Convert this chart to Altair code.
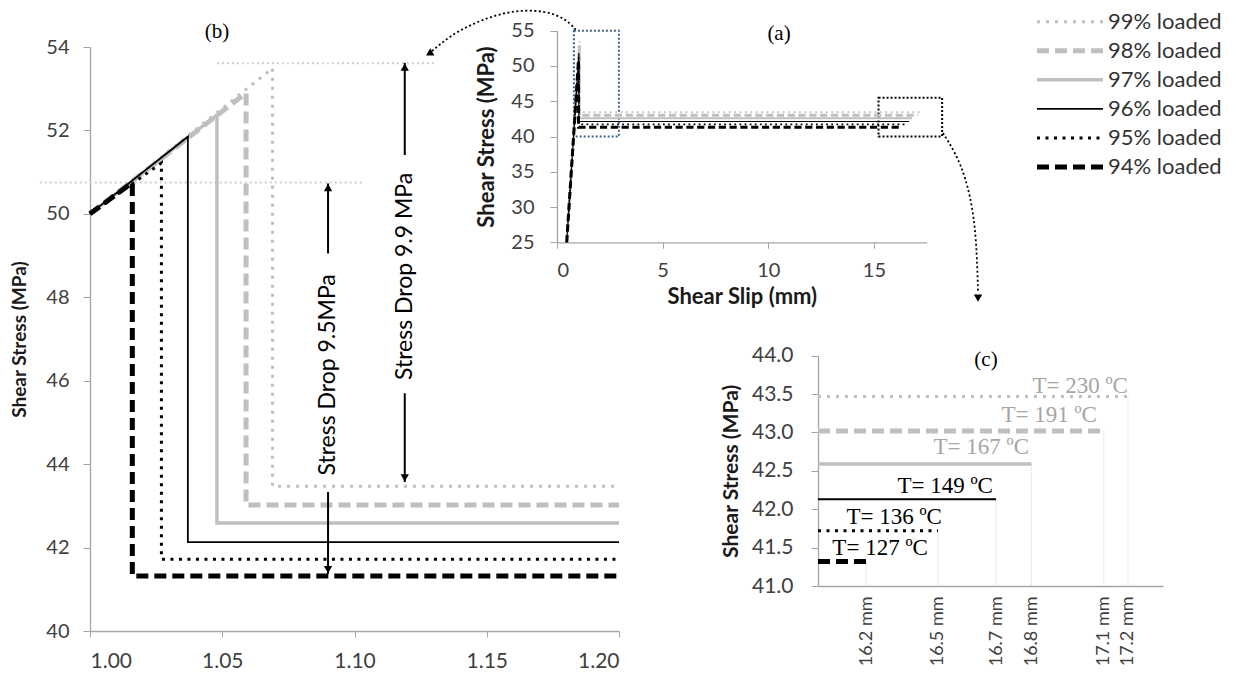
import altair as alt
import pandas as pd

# ---------------- data ----------------
series = ["99% loaded", "98% loaded", "97% loaded", "96% loaded", "95% loaded", "94% loaded"]
onset_slip = [0.46, 1.00]
onset_stress = [25.0, 50.0]
peak_slip = [1.069, 1.059, 1.048, 1.037, 1.027, 1.016]
peak_stress = [53.49, 52.90, 52.37, 51.85, 51.22, 50.75]
residual_stress = [43.47, 43.02, 42.59, 42.13, 41.72, 41.32]
end_slip = [17.168, 17.077, 16.804, 16.671, 16.452, 16.181]
temperature = ["T= 230 ºC", "T= 191 ºC", "T= 167 ºC", "T= 149 ºC", "T= 136 ºC", "T= 127 ºC"]
temp_label_slip = [17.168, 17.051, 16.795, 16.659, 16.467, 16.414]
temp_label_stress = [43.51, 43.14, 42.72, 42.21, 41.81, 41.40]

# (b) annotations
drop_labels = ["Stress Drop 9.9 MPa", "Stress Drop 9.5MPa"]
drop_slip = [1.119, 1.090]
drop_text_stress = [48.50, 46.14]
drop_top_tip = [53.62, 50.73]
drop_top_end = [51.41, 49.05]
drop_bot_start = [45.70, 43.33]
drop_bot_tip = [43.57, 41.37]
drop_top_head = [53.52, 50.63]
drop_bot_head = [43.67, 41.47]
guide_slip_start = [1.048, 0.981]
guide_slip_end = [1.130, 1.103]
guide_stress = [53.61, 50.75]

# (a) annotations
box_names = ["peak", "end"]
box_slip_lo = [0.80, 15.22]
box_slip_hi = [2.93, 18.23]
box_stress_lo = [40.0, 40.0]
box_stress_hi = [55.0, 45.5]
arc1_slip = [-5.917, -5.065, -4.118, -2.935, -1.751, -0.568, 0.379, 0.899]
arc1_stress = [52.12, 54.25, 55.81, 57.23, 57.93, 57.79, 56.80, 55.10]
arc1_head = (-6.05, 51.75)
arc2_slip = [18.27, 18.84, 19.36, 19.74, 19.88, 19.93]
arc2_stress = [40.50, 37.80, 34.12, 28.87, 23.20, 17.95]
arc2_head = (19.93, 17.10)

panel_tags = ["(a)", "(b)", "(c)"]
tag_slip = [10.51, 1.048, 16.633]
tag_stress = [54.53, 54.36, 43.944]

# axes
b_x_domain = [1.00, 1.20]
b_y_domain = [40, 54]
b_x_ticks = [1.00, 1.05, 1.10, 1.15, 1.20]
b_y_ticks = [40, 42, 44, 46, 48, 50, 52, 54]
a_x_domain = [0, 17.5]
a_y_domain = [25, 55]
a_x_ticks = [0, 5, 10, 15]
a_y_ticks = [25, 30, 35, 40, 45, 50, 55]
c_x_domain = [16.0, 17.3]
c_y_domain = [41.0, 44.0]
c_y_ticks = [41.0, 41.5, 42.0, 42.5, 43.0, 43.5, 44.0]

# ---------------- layout & style ----------------
W, H = 1220, 662
B_X_RANGE, B_Y_RANGE = [82, 611], [623, 39]
A_X_RANGE, A_Y_RANGE = [549, 918.7], [234.3, 22.7]
C_X_RANGE, C_Y_RANGE = [810, 1155], [578, 347.7]
L_X_RANGE, L_Y_RANGE = [1029, 1095], [13.7, 159]

FONT = "Lato"
SERIF = "Liberation Serif"
AXIS_GRAY = "#a6a6a6"
LABEL = "#404040"
TITLE = "#1a1a1a"
GRAY = "#bfbfbf"

STYLE = {
    "99% loaded": dict(color=GRAY, dash=[3, 6], width=3),
    "98% loaded": dict(color=GRAY, dash=[12, 6], width=5),
    "97% loaded": dict(color=GRAY, dash=None, width=3.5),
    "96% loaded": dict(color="#000000", dash=None, width=1.8),
    "95% loaded": dict(color="#000000", dash=[3, 5.5], width=3),
    "94% loaded": dict(color="#000000", dash=[12, 6], width=5),
}
label_colors = ["#a6a6a6", "#a6a6a6", "#a6a6a6", "#000000", "#000000", "#000000"]


def lin(domain, rng):
    return alt.Scale(domain=domain, range=rng, nice=False, zero=False)


def x_axis(values, y_px, lsize, lpad, fmt=None, title="", tsize=20, tpad=6, ticks=True, **kw):
    args = dict(orient="bottom", offset=y_px - H, values=values, grid=False, ticks=ticks,
                tickSize=6, tickColor=AXIS_GRAY, domainColor=AXIS_GRAY, domainWidth=1.3,
                labelFont=FONT, labelFontSize=lsize, labelColor=LABEL, labelPadding=lpad,
                title=title, titleFont=FONT, titleFontSize=tsize, titleFontWeight="bold",
                titleColor=TITLE, titlePadding=tpad)
    if fmt:
        args["format"] = fmt
    args.update(kw)
    return alt.Axis(**args)


def y_axis(values, x_px, lsize, lpad, fmt, title, tsize, tpad):
    return alt.Axis(orient="left", offset=-x_px, values=values, format=fmt, grid=False,
                    tickSize=7, tickColor=AXIS_GRAY, domainColor=AXIS_GRAY, domainWidth=1.3,
                    labelFont=FONT, labelFontSize=lsize, labelColor=LABEL, labelPadding=lpad,
                    title=title, titleFont=FONT, titleFontSize=tsize, titleFontWeight="bold",
                    titleColor=TITLE, titlePadding=tpad)


def make_xy(xs, ys, xa, ya):
    def X(f):
        return alt.X(f, type="quantitative", scale=xs, axis=xa)

    def Y(f):
        return alt.Y(f, type="quantitative", scale=ys, axis=ya)
    return X, Y


def series_lines(df, X, Y, k=1.0):
    out = []
    for s in series:
        st = STYLE[s]
        kw = dict(color=st["color"], strokeWidth=st["width"] * k, strokeCap="butt", strokeJoin="miter")
        if st["dash"]:
            kw["strokeDash"] = [d * k for d in st["dash"]]
        out.append(alt.Chart(df[df.series == s]).mark_line(**kw).encode(
            x=X("x"), y=Y("y"), order=alt.Order("order:Q")))
    return out


# ---------------- panel (b) ----------------
bX, bY = make_xy(
    lin(b_x_domain, B_X_RANGE), lin(b_y_domain, B_Y_RANGE),
    x_axis(b_x_ticks, B_Y_RANGE[0], 21, 13, fmt=".2f"),
    y_axis(b_y_ticks, B_X_RANGE[0], 20, 14, "d", "Shear Stress (MPa)", 19, 16))

rows = []
for i, s in enumerate(series):
    pts = [(onset_slip[1], onset_stress[1]), (peak_slip[i], peak_stress[i]),
           (peak_slip[i], residual_stress[i]), (b_x_domain[1], residual_stress[i])]
    for k, (x, y) in enumerate(pts):
        rows.append(dict(series=s, order=k, x=x, y=y))
b_df = pd.DataFrame(rows)

guide_df = pd.DataFrame(dict(x=guide_slip_start, x1=guide_slip_end, y=guide_stress))
b_guides = alt.Chart(guide_df).mark_rule(color="#cfcfcf", strokeWidth=2, strokeDash=[2, 3]).encode(
    x=bX("x"), x2=alt.X2("x1"), y=bY("y"))

shaft_df = pd.DataFrame(dict(
    x=drop_slip + drop_slip,
    y=drop_top_tip + drop_bot_start,
    y1=drop_top_end + drop_bot_tip))
b_shafts = alt.Chart(shaft_df).mark_rule(color="black", strokeWidth=2).encode(
    x=bX("x"), y=bY("y"), y2=alt.Y2("y1"))
b_heads_up = alt.Chart(pd.DataFrame(dict(x=drop_slip, y=drop_top_head))).mark_point(
    shape="triangle-up", filled=True, size=70, color="black", opacity=1).encode(x=bX("x"), y=bY("y"))
b_heads_dn = alt.Chart(pd.DataFrame(dict(x=drop_slip, y=drop_bot_head))).mark_point(
    shape="triangle-down", filled=True, size=70, color="black", opacity=1).encode(x=bX("x"), y=bY("y"))
b_text = alt.Chart(pd.DataFrame(dict(x=drop_slip, y=drop_text_stress, t=drop_labels))).mark_text(
    angle=270, align="center", baseline="middle", font=FONT, fontSize=23, color="black").encode(
    x=bX("x"), y=bY("y"), text="t:N")
b_tag = alt.Chart(pd.DataFrame(dict(x=[tag_slip[1]], y=[tag_stress[1]], t=[panel_tags[1]]))).mark_text(
    font=SERIF, fontSize=21, baseline="middle", align="center", color="black").encode(
    x=bX("x"), y=bY("y"), text="t:N")

panel_b = alt.layer(b_guides, *series_lines(b_df, bX, bY), b_shafts, b_heads_up, b_heads_dn, b_text, b_tag)

# ---------------- panel (a) ----------------
aX, aY = make_xy(
    lin(a_x_domain, A_X_RANGE), lin(a_y_domain, A_Y_RANGE),
    x_axis(a_x_ticks, A_Y_RANGE[0], 20, 12, fmt="d", title="Shear Slip (mm)", tsize=22, tpad=6),
    y_axis(a_y_ticks, A_X_RANGE[0], 20, 16, "d", "Shear Stress (MPa)", 22, 12))

rows = []
for i, s in enumerate(series):
    pts = [(onset_slip[0], onset_stress[0]), (onset_slip[1], onset_stress[1]),
           (peak_slip[i], peak_stress[i]), (peak_slip[i], residual_stress[i]),
           (end_slip[i], residual_stress[i])]
    for k, (x, y) in enumerate(pts):
        rows.append(dict(series=s, order=k, x=x, y=y))
a_df = pd.DataFrame(rows)

box_df = pd.DataFrame(dict(name=box_names, x=box_slip_lo, x1=box_slip_hi, y=box_stress_lo, y1=box_stress_hi))
a_box1 = alt.Chart(box_df[box_df.name == "peak"]).mark_rect(
    fillOpacity=0, stroke="#3d6494", strokeWidth=2, strokeDash=[2, 2]).encode(
    x=aX("x"), x2=alt.X2("x1"), y=aY("y"), y2=alt.Y2("y1"))
a_box2 = alt.Chart(box_df[box_df.name == "end"]).mark_rect(
    fillOpacity=0, stroke="black", strokeWidth=2, strokeDash=[2, 2]).encode(
    x=aX("x"), x2=alt.X2("x1"), y=aY("y"), y2=alt.Y2("y1"))

arc1_df = pd.DataFrame(dict(x=arc1_slip, y=arc1_stress, order=list(range(len(arc1_slip)))))
arc2_df = pd.DataFrame(dict(x=arc2_slip, y=arc2_stress, order=list(range(len(arc2_slip)))))
a_arc1 = alt.Chart(arc1_df).mark_line(interpolate="basis", color="black", strokeWidth=1.8,
                                      strokeDash=[2, 2.5]).encode(x=aX("x"), y=aY("y"), order="order:Q")
a_arc2 = alt.Chart(arc2_df).mark_line(interpolate="basis", color="black", strokeWidth=1.8,
                                      strokeDash=[2, 2.5]).encode(x=aX("x"), y=aY("y"), order="order:Q")
a_head1 = alt.Chart(pd.DataFrame(dict(x=[arc1_head[0]], y=[arc1_head[1]]))).mark_point(
    shape="triangle-up", angle=240, filled=True, size=70, color="black", opacity=1).encode(x=aX("x"), y=aY("y"))
a_head2 = alt.Chart(pd.DataFrame(dict(x=[arc2_head[0]], y=[arc2_head[1]]))).mark_point(
    shape="triangle-down", filled=True, size=70, color="black", opacity=1).encode(x=aX("x"), y=aY("y"))
a_tag = alt.Chart(pd.DataFrame(dict(x=[tag_slip[0]], y=[tag_stress[0]], t=[panel_tags[0]]))).mark_text(
    font=SERIF, fontSize=21, baseline="middle", align="center", color="black").encode(
    x=aX("x"), y=aY("y"), text="t:N")

panel_a = alt.layer(a_box1, a_box2, *series_lines(a_df, aX, aY, k=0.6),
                    a_arc1, a_arc2, a_head1, a_head2, a_tag)

# ---------------- panel (c) ----------------
cX, cY = make_xy(
    lin(c_x_domain, C_X_RANGE), lin(c_y_domain, C_Y_RANGE),
    x_axis(end_slip, C_Y_RANGE[0], 18, 10, ticks=False, labelAngle=270,
           labelExpr="format(datum.value, '.1f') + ' mm'"),
    y_axis(c_y_ticks, C_X_RANGE[0], 21, 18, ".1f", "Shear Stress (MPa)", 21, 10))

rows = []
for i, s in enumerate(series):
    for k, x in enumerate([c_x_domain[0], end_slip[i]]):
        rows.append(dict(series=s, order=k, x=x, y=residual_stress[i]))
c_df = pd.DataFrame(rows)

drop_df = pd.DataFrame(dict(x=end_slip, y=residual_stress, y1=[c_y_domain[0]] * len(series)))
c_drops = alt.Chart(drop_df).mark_rule(color="#d4d4d4", strokeWidth=1, strokeDash=[1, 1]).encode(
    x=cX("x"), y=cY("y"), y2=alt.Y2("y1"))
c_labels = alt.Chart(pd.DataFrame(dict(series=series, x=temp_label_slip, y=temp_label_stress, t=temperature))).mark_text(
    font=SERIF, fontSize=23, align="right", baseline="alphabetic").encode(
    x=cX("x"), y=cY("y"), text="t:N",
    color=alt.Color("series:N", scale=alt.Scale(domain=series, range=label_colors), legend=None))
c_tag = alt.Chart(pd.DataFrame(dict(x=[tag_slip[2]], y=[tag_stress[2]], t=[panel_tags[2]]))).mark_text(
    font=SERIF, fontSize=21, baseline="middle", align="center", color="black").encode(
    x=cX("x"), y=cY("y"), text="t:N")

panel_c = alt.layer(c_drops, *series_lines(c_df, cX, cY), c_labels, c_tag)

# ---------------- legend ----------------
lx = lin([0, 1], L_X_RANGE)
ly = alt.Scale(type="point", domain=series, range=L_Y_RANGE, padding=0)
leg_layers = []
for s in series:
    st = STYLE[s]
    kw = dict(color=st["color"], strokeWidth=st["width"], strokeCap="butt")
    if st["dash"]:
        kw["strokeDash"] = st["dash"]
    leg_layers.append(alt.Chart(pd.DataFrame(dict(series=[s]))).mark_rule(**kw).encode(
        x=alt.XDatum(0, type="quantitative", scale=lx, axis=None),
        x2=alt.X2Datum(1),
        y=alt.Y("series:N", scale=ly, axis=None)))
leg_text = alt.Chart(pd.DataFrame(dict(series=series))).mark_text(
    align="left", baseline="middle", dx=5, font=FONT, fontSize=22, color="#333333").encode(
    x=alt.XDatum(1, type="quantitative", scale=lx, axis=None),
    y=alt.Y("series:N", scale=ly, axis=None), text="series:N")
legend = alt.layer(*leg_layers, leg_text)

chart = alt.layer(panel_b, panel_a, panel_c, legend).resolve_scale(
    x="independent", y="independent").properties(
    width=W, height=H, autosize=alt.AutoSizeParams(type="none"), padding=0,
    background="white").configure_view(strokeWidth=0)

chart.save("out.html", embed_options={"renderer": "svg", "actions": False})
